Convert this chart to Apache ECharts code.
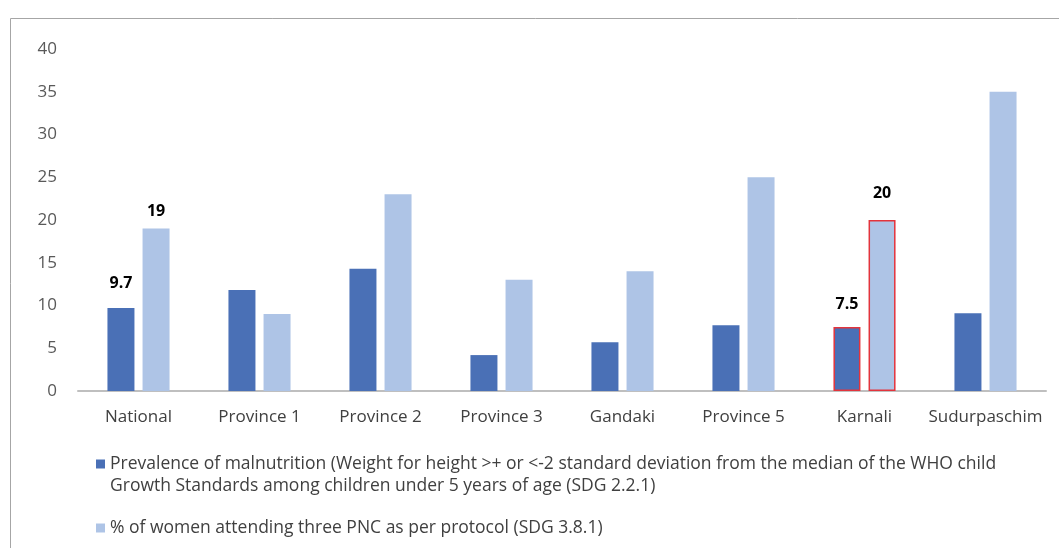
<!DOCTYPE html>
<html>
<head>
<meta charset="utf-8">
<script src="https://cdn.jsdelivr.net/npm/echarts@6/dist/echarts.min.js"></script>
<style>
  html, body { margin: 0; padding: 0; background: #fff; }
  #chart { width: 1059px; height: 548px; }
</style>
</head>
<body>
<div id="chart"></div>
<script>
// Provinces of Nepal plus the national figure
const categories = ['National', 'Province 1', 'Province 2', 'Province 3', 'Gandaki', 'Province 5', 'Karnali', 'Sudurpaschim'];

// Prevalence of malnutrition (SDG 2.2.1)
const malnutrition = [9.7, 11.8, 14.3, 4.2, 5.7, 7.7, 7.5, 9.1];
// % of women attending three PNC as per protocol (SDG 3.8.1)
const pncAttendance = [19, 9, 23, 13, 14, 25, 20, 35];

const yTicks = [0, 5, 10, 15, 20, 25, 30, 35, 40];

const seriesNames = [
  'Prevalence of malnutrition (Weight for height >+ or <-2 standard deviation from the median of the WHO child\nGrowth Standards among children under 5 years of age (SDG 2.2.1)',
  '% of women attending three PNC as per protocol (SDG 3.8.1)'
];

// Bars that carry a value label, and the highlighted category
const labelledIndex = [0, 6];
const highlightIndex = 6;
const labelDistance = [[17, 9], [14, 19]];

const FONT = '"Open Sans", "Noto Sans", sans-serif';
const DARK = '#4a70b6';
const LIGHT = '#aec4e6';

function buildData(values, seriesIdx) {
  return values.map((v, i) => {
    const item = { value: v };
    const li = labelledIndex.indexOf(i);
    if (li >= 0) {
      item.label = {
        show: true,
        position: 'top',
        distance: labelDistance[li][seriesIdx],
        color: '#000',
        fontWeight: 'bold',
        fontSize: 16,
        fontFamily: FONT
      };
    }
    if (i === highlightIndex) {
      item.itemStyle = { borderColor: '#e3343c', borderWidth: 1.5 };
    }
    return item;
  });
}

const chart = echarts.init(document.getElementById('chart'), null, { renderer: 'canvas' });

chart.setOption({
  animation: false,
  backgroundColor: '#fff',
  graphic: [{
    type: 'rect',
    silent: true,
    shape: { x: 10.5, y: 18.5, width: 1100, height: 600 },
    style: { fill: 'none', stroke: '#a6a6a6', lineWidth: 1 }
  }],
  grid: { left: 78, right: 13, top: 49, bottom: 157, containLabel: false },
  legend: {
    orient: 'vertical',
    left: 96,
    top: 431,
    padding: 0,
    itemWidth: 9,
    itemHeight: 9,
    itemGap: 20,
    icon: 'rect',
    // a leading blank line keeps the marker level with the first text line
    formatter: name => (name.indexOf('\n') >= 0 ? '\n' + name : name),
    textStyle: { fontSize: 17.5, color: '#404040', fontFamily: FONT, lineHeight: 22 },
    data: seriesNames
  },
  xAxis: {
    type: 'category',
    data: categories,
    axisLine: { show: true, lineStyle: { color: '#bfbfbf', width: 2 } },
    axisTick: { show: false },
    axisLabel: { interval: 0, fontSize: 17, color: '#404040', fontFamily: FONT, margin: 18 }
  },
  yAxis: {
    type: 'value',
    min: yTicks[0],
    max: yTicks[yTicks.length - 1],
    interval: yTicks[1] - yTicks[0],
    splitLine: { show: false },
    axisLine: { show: false },
    axisTick: { show: false },
    axisLabel: { fontSize: 17, color: '#595959', fontFamily: FONT, margin: 21 }
  },
  series: [
    {
      name: seriesNames[0],
      type: 'bar',
      barWidth: 27,
      barGap: '30%',
      itemStyle: { color: DARK },
      data: buildData(malnutrition, 0)
    },
    {
      name: seriesNames[1],
      type: 'bar',
      barWidth: 27,
      barGap: '30%',
      itemStyle: { color: LIGHT },
      data: buildData(pncAttendance, 1)
    }
  ]
});
</script>
</body>
</html>
